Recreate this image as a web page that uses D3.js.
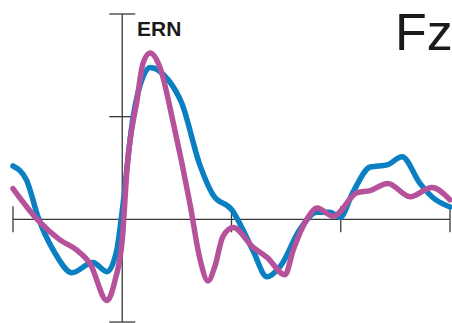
<!DOCTYPE html>
<html>
<head>
<meta charset="utf-8">
<script src="https://cdn.jsdelivr.net/npm/d3@7"></script>
<style>
  body { margin: 0; background: #fff; }
  svg { display: block; }
</style>
</head>
<body>
<svg></svg>
<script>
// time in ms, amplitude in tick units
const blueT = [-200, -175, -154, -123, -92, -54, -28, -10, -2, 20, 38, 51, 84, 109, 142, 166, 201, 239, 265, 289, 325, 356, 380, 399, 422, 454, 485, 512, 545, 569, 600];
const blueV = [0.52, 0.38, 0.02, -0.33, -0.52, -0.42, -0.51, -0.30, 0.0, 1.00, 1.39, 1.48, 1.36, 1.13, 0.53, 0.24, 0.09, -0.30, -0.56, -0.46, -0.10, 0.07, 0.07, 0.02, 0.26, 0.51, 0.53, 0.61, 0.35, 0.21, 0.12];

const pinkT = [-200, -154, -114, -83, -59, -28, -13, 0, 9, 27, 38, 51, 69, 93, 124, 142, 157, 170, 184, 203, 239, 265, 298, 313, 338, 357, 386, 430, 454, 486, 527, 567, 600];
const pinkV = [0.30, -0.01, -0.20, -0.30, -0.43, -0.79, -0.59, -0.20, 0.51, 1.16, 1.52, 1.62, 1.48, 0.95, 0.15, -0.38, -0.60, -0.45, -0.17, -0.08, -0.27, -0.37, -0.54, -0.30, 0.0, 0.11, 0.03, 0.26, 0.28, 0.35, 0.22, 0.31, 0.19];

const xTicks = [-200, 200, 400, 600];
const yTicks = [-1, 1, 2];

const width = 452, height = 323;

const svg = d3.select("svg")
    .attr("width", width)
    .attr("height", height);

const x = d3.scaleLinear().domain([-200, 600]).range([13, 450]);
const y = d3.scaleLinear().domain([-1, 2]).range([322, 14]);

const axisColor = "#3a3a3a";

// x axis
svg.append("line")
    .attr("x1", x(-200)).attr("x2", x(600))
    .attr("y1", y(0)).attr("y2", y(0))
    .attr("stroke", axisColor).attr("stroke-width", 1.3);

svg.selectAll(".xtick")
    .data(xTicks)
    .enter()
    .append("line")
    .attr("x1", d => x(d)).attr("x2", d => x(d))
    .attr("y1", y(0) - 13).attr("y2", y(0) + 13)
    .attr("stroke", axisColor).attr("stroke-width", 1.3);

// y axis
svg.append("line")
    .attr("x1", x(0)).attr("x2", x(0))
    .attr("y1", y(2)).attr("y2", y(-1))
    .attr("stroke", axisColor).attr("stroke-width", 1.3);

svg.selectAll(".ytick")
    .data(yTicks)
    .enter()
    .append("line")
    .attr("x1", x(0) - 13).attr("x2", x(0) + 13)
    .attr("y1", d => y(d)).attr("y2", d => y(d))
    .attr("stroke", axisColor).attr("stroke-width", 1.3);

const line = d3.line()
    .x(d => x(d[0]))
    .y(d => y(d[1]))
    .curve(d3.curveMonotoneX);

const series = [
    { pts: d3.zip(blueT, blueV), color: "#0a80c2" },
    { pts: d3.zip(pinkT, pinkV), color: "#b5529b" }
];

svg.selectAll(".wave")
    .data(series)
    .enter()
    .append("path")
    .attr("d", d => line(d.pts))
    .attr("fill", "none")
    .attr("stroke", d => d.color)
    .attr("stroke-width", 5.5)
    .attr("stroke-linecap", "round")
    .attr("stroke-linejoin", "round");

// labels
svg.append("text")
    .attr("x", 137)
    .attr("y", 36)
    .attr("font-family", "Liberation Sans, Arial, sans-serif")
    .attr("font-weight", "bold")
    .attr("font-size", 21)
    .attr("fill", "#1a1a1a")
    .text("ERN");

svg.append("text")
    .attr("x", 395)
    .attr("y", 50)
    .attr("font-family", "Liberation Sans, Arial, sans-serif")
    .attr("font-size", 52)
    .attr("fill", "#1a1a1a")
    .text("Fz");
</script>
</body>
</html>
